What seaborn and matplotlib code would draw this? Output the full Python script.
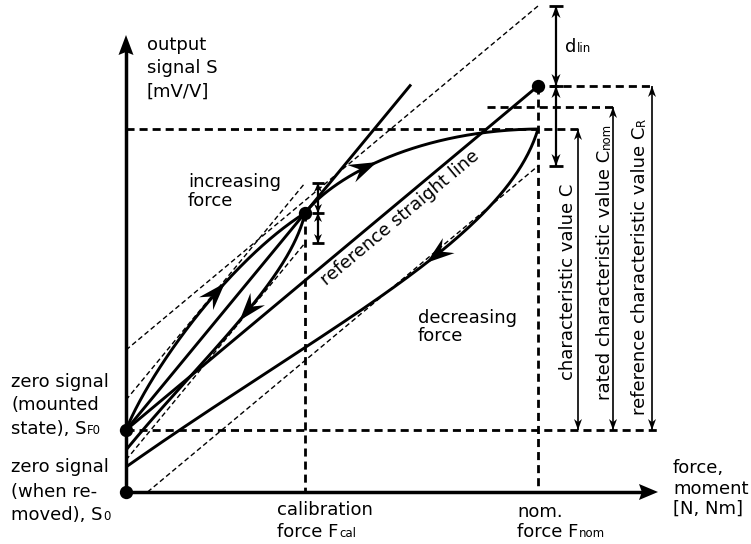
import numpy as np
import matplotlib
matplotlib.use("Agg")
import matplotlib.pyplot as plt
import seaborn as sns

# ---- characteristic quantities (x: force, y: output signal) ----
F_CAL = 179            # calibration force
F_NOM = 412            # nominal force
S_F0 = 62              # zero signal, mounted state
S_0 = 0                # zero signal, removed
S_CAL = 279            # signal at calibration force
C_TOP = 363            # signal at nominal force (characteristic value C)
C_NOM_TOP = 385        # rated characteristic value
C_R_TOP = 406          # end of reference straight line (C_R)
D_LIN = 80             # linearity tolerance around the reference line
D_CAL = 30             # tolerance around the calibration line
CAL_LINE_END = 285     # force where the calibration line stops

# Cubic Bezier control points of the hysteresis branches
inc_lower_x = [0, 24, 104, 179]
inc_lower_y = [62, 122, 232, 279]
inc_upper_x = [179, 209, 294, 412]
inc_upper_y = [279, 317, 362, 363]
dec_outer_x = [412, 379, 194, 0]
dec_outer_y = [363, 252, 162, 25]
dec_inner_x = [179, 164, 74, 0]
dec_inner_y = [279, 212, 132, 42]

# position (curve parameter) of the direction arrows on each branch
arrow_t = {"inc_lower": 0.64, "inc_upper": 0.45, "dec_outer": 0.42, "dec_inner": 0.49}

# dimension arrow columns
X_C, X_CNOM, X_CR = 452, 487, 526
X_DLIN = 430
X_DCAL = 192

sns.set_theme(style="white")
plt.rcParams["font.family"] = ["DejaVu Sans"]
plt.rcParams["lines.scale_dashes"] = False
plt.rcParams["lines.solid_capstyle"] = "butt"

FS = 13
SUB = 8.5
K = "black"
LW = 2.1

fig = plt.figure(figsize=(7.51, 5.44), dpi=100)
ax = fig.add_axes([0, 0, 1, 1])
ax.set_xlim(-126, 625)
ax.set_ylim(-52, 492)
ax.axis("off")

THICK_DASH = (0, (5.8, 3.6))
THIN_DASH = (0, (3.6, 2.2))


def bezier(px, py, t):
    t = np.atleast_1d(np.asarray(t, float))[:, None]
    P = np.column_stack([px, py]).astype(float)
    B = ((1 - t) ** 3) * P[0] + 3 * t * (1 - t) ** 2 * P[1] \
        + 3 * t ** 2 * (1 - t) * P[2] + t ** 3 * P[3]
    return B[:, 0], B[:, 1]


def bezier_dir(px, py, t):
    P = np.column_stack([px, py]).astype(float)
    d = 3 * (1 - t) ** 2 * (P[1] - P[0]) + 6 * (1 - t) * t * (P[2] - P[1]) \
        + 3 * t ** 2 * (P[3] - P[2])
    return d


def stealth(tip, direction, length, width, notch=0.3):
    d = np.asarray(direction, float)
    d = d / np.linalg.norm(d)
    n = np.array([-d[1], d[0]])
    tip = np.asarray(tip, float)
    back = tip - d * length
    pts = np.array([tip, back + n * width / 2, tip - d * length * (1 - notch),
                    back - n * width / 2])
    ax.fill(pts[:, 0], pts[:, 1], color=K, lw=0, zorder=5)


def dim_arrow(x, y0, y1, lw, head_len, head_w):
    ax.plot([x, x], [y0, y1], color=K, lw=lw, zorder=4)
    stealth((x, y1), (0, np.sign(y1 - y0)), head_len, head_w)
    stealth((x, y0), (0, np.sign(y0 - y1)), head_len, head_w)


def bar(x, y, half=6, lw=2.0):
    ax.plot([x - half, x + half], [y, y], color=K, lw=lw, zorder=4)


def label(x, y, text, sub=None, rotation=0):
    t = ax.text(x, y, text, fontsize=FS, color=K, ha="left", va="baseline",
                rotation=rotation, rotation_mode="anchor")
    if sub:
        if rotation == 0:
            ax.annotate(sub, xy=(1, 0), xycoords=t, xytext=(0.5, 0.6),
                        textcoords="offset points", ha="left", va="bottom",
                        fontsize=SUB, color=K)
        else:
            ax.annotate(sub, xy=(1, 1), xycoords=t, xytext=(-0.6, 0.5),
                        textcoords="offset points", ha="right", va="bottom",
                        rotation=90, fontsize=SUB, color=K)
    return t


# ---- axes with arrow tips ----
Y_TIP, X_TIP = 457, 532
ax.plot([0, 0], [0, Y_TIP - 8], color=K, lw=2.5, zorder=4)
ax.plot([0, X_TIP - 8], [0, 0], color=K, lw=2.5, zorder=4)
stealth((0, Y_TIP), (0, 1), 20, 15, notch=0.15)
stealth((X_TIP, 0), (1, 0), 19, 16, notch=0.15)

# ---- thick dashed guide lines ----
ax.plot([0, X_C], [C_TOP, C_TOP], color=K, lw=2.0, ls=THICK_DASH)
ax.plot([361, X_CNOM], [C_NOM_TOP, C_NOM_TOP], color=K, lw=2.0, ls=THICK_DASH)
ax.plot([F_NOM + 12, X_CR], [C_R_TOP, C_R_TOP], color=K, lw=2.0, ls=THICK_DASH)
ax.plot([0, X_CR + 5], [S_F0, S_F0], color=K, lw=2.0, ls=THICK_DASH)
ax.plot([F_CAL, F_CAL], [S_CAL, 0], color=K, lw=2.0, ls=THICK_DASH)
ax.plot([F_NOM, F_NOM], [C_R_TOP, 0], color=K, lw=2.0, ls=THICK_DASH)

# ---- tolerance bands (thin dashed) ----
ref_slope = (C_R_TOP - S_F0) / F_NOM
cal_slope = (S_CAL - S_F0) / F_CAL
ax.plot([0, F_NOM], [S_F0 + D_LIN, C_R_TOP + D_LIN], color=K, lw=1.0, ls=THIN_DASH)
f_low = (D_LIN - S_F0) / ref_slope
ax.plot([f_low, F_NOM], [0, C_R_TOP - D_LIN], color=K, lw=1.0, ls=THIN_DASH)
ax.plot([0, F_CAL], [S_F0 + D_CAL, S_CAL + D_CAL], color=K, lw=1.0, ls=THIN_DASH)
ax.plot([0, F_CAL], [S_F0 - D_CAL, S_CAL - D_CAL], color=K, lw=1.0, ls=THIN_DASH)

# ---- straight lines ----
sns.lineplot(x=[0, F_NOM], y=[S_F0, C_R_TOP], color=K, linewidth=LW, ax=ax)
sns.lineplot(x=[0, CAL_LINE_END], y=[S_F0, S_F0 + cal_slope * CAL_LINE_END],
             color=K, linewidth=LW, ax=ax)

# ---- hysteresis branches ----
tt = np.linspace(0, 1, 160)
branches = {
    "inc_lower": (inc_lower_x, inc_lower_y),
    "inc_upper": (inc_upper_x, inc_upper_y),
    "dec_outer": (dec_outer_x, dec_outer_y),
    "dec_inner": (dec_inner_x, dec_inner_y),
}
for name, (bx, by) in branches.items():
    cx, cy = bezier(bx, by, tt)
    sns.lineplot(x=cx, y=cy, sort=False, estimator=None, color=K,
                 linewidth=LW, ax=ax)
    t0 = arrow_t[name]
    px, py = bezier(bx, by, t0)
    stealth((px[0], py[0]), bezier_dir(bx, by, t0), 28, 19, notch=0.35)

# ---- dimension arrows ----
dim_arrow(X_C, S_F0, C_TOP, 1.2, 11, 8)
dim_arrow(X_CNOM, S_F0, C_NOM_TOP, 1.2, 11, 8)
dim_arrow(X_CR, S_F0, C_R_TOP, 1.2, 11, 8)

dim_arrow(X_DLIN, C_R_TOP, C_R_TOP + D_LIN, 1.6, 12, 9)
dim_arrow(X_DLIN, C_R_TOP, C_R_TOP - D_LIN, 1.6, 12, 9)
for yb in (C_R_TOP + D_LIN, C_R_TOP, C_R_TOP - D_LIN):
    bar(X_DLIN, yb, half=7)

dim_arrow(X_DCAL, S_CAL, S_CAL + D_CAL, 1.6, 9, 8)
dim_arrow(X_DCAL, S_CAL, S_CAL - D_CAL, 1.6, 9, 8)
for yb in (S_CAL + D_CAL, S_CAL, S_CAL - D_CAL):
    bar(X_DCAL, yb, half=6)

# ---- marked points ----
sns.scatterplot(x=[0, 0, F_CAL, F_NOM], y=[S_0, S_F0, S_CAL, C_R_TOP],
                s=92, color=K, linewidth=0, ax=ax, zorder=6)

# ---- texts ----
label(21, 442, "output")
label(21, 419, "signal S")
label(21, 395, "[mV/V]")

label(62, 305, "increasing")
label(62, 286, "force")

label(292, 169, "decreasing")
label(292, 151, "force")

label(-115, 105, "zero signal")
label(-115, 82, "(mounted")
label(-115, 58, "state), S", sub="F0")

label(-115, 20, "zero signal")
label(-115, -5, "(when re-")
label(-115, -28, "moved), S", sub="0")

label(151, -23, "calibration")
label(151, -45, "force F", sub="cal")

label(391, -25, "nom.")
label(391, -45, "force F", sub="nom")

label(547, 19, "force,")
label(547, -2, "moment")
label(547, -22, "[N, Nm]")

label(439, 440, "d", sub="lin")

label(447, 112, "characteristic value C", rotation=90)
label(484, 92, "rated characteristic value C", sub="nom", rotation=90)
label(519, 77, "reference characteristic value C", sub="R", rotation=90)

ang = np.degrees(np.arctan(ref_slope))
ax.text(274, 274, "reference straight line", fontsize=FS, color=K,
        rotation=ang, rotation_mode="anchor", ha="center", va="center")

fig.savefig("out.png", dpi=100)
